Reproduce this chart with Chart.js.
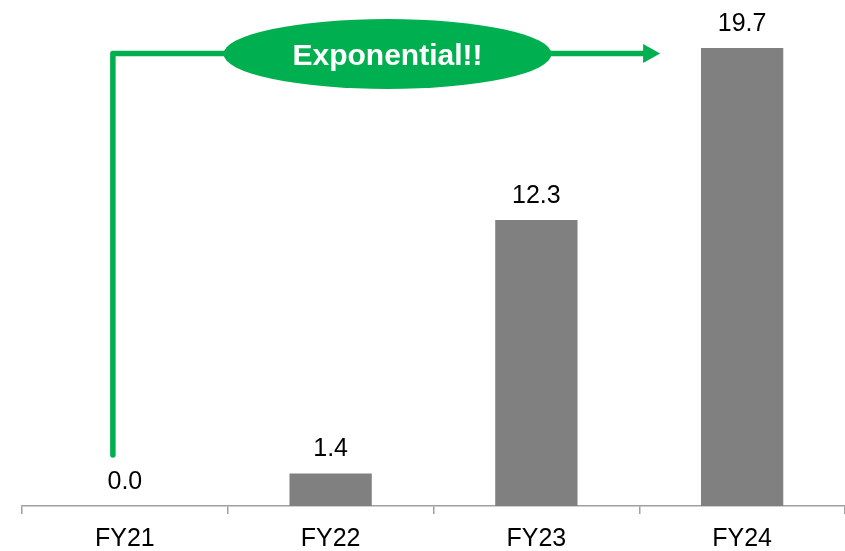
<!DOCTYPE html>
<html>
<head>
<meta charset="utf-8">
<script src="https://cdn.jsdelivr.net/npm/chart.js@4"></script>
<style>
  html, body { margin: 0; padding: 0; background: #ffffff; }
  #wrap { width: 845px; height: 551px; position: relative; }
</style>
</head>
<body>
<div id="wrap"><canvas id="chart" width="845" height="551"></canvas></div>
<script>
// Fiscal years and their values
const categories = ['FY21', 'FY22', 'FY23', 'FY24'];
const values = [0.0, 1.4, 12.3, 19.7];
const calloutText = 'Exponential!!';

const BAR_COLOR = '#808080';
const AXIS_COLOR = '#a0a0a0';
const GREEN = '#00B050';
const FONT = "Arial, 'Liberation Sans', sans-serif";

// Value labels above each bar
const valueLabelPlugin = {
  id: 'valueLabels',
  afterDatasetsDraw(chart) {
    const ctx = chart.ctx;
    const meta = chart.getDatasetMeta(0);
    ctx.save();
    ctx.font = '25px ' + FONT;
    ctx.fillStyle = '#000000';
    ctx.textAlign = 'center';
    ctx.textBaseline = 'alphabetic';
    meta.data.forEach((bar, i) => {
      ctx.fillText(values[i].toFixed(1), bar.x, bar.y - 17);
    });
    ctx.restore();
  }
};

// Green bracket arrow with an oval badge, running from FY21 up and over to FY24
const calloutPlugin = {
  id: 'callout',
  afterDraw(chart) {
    const ctx = chart.ctx;
    const xs = chart.scales.x;
    const ys = chart.scales.y;
    const x0 = xs.getPixelForValue(0) - 12;
    const yBottom = ys.getPixelForValue(0) - 51;
    const yTop = chart.chartArea.top + 12.5;
    const tipX = xs.getPixelForValue(3) - 82;
    const headLen = 17;
    const headHalf = 9.5;

    ctx.save();
    ctx.strokeStyle = GREEN;
    ctx.fillStyle = GREEN;
    ctx.lineWidth = 5.5;
    ctx.lineCap = 'round';
    ctx.lineJoin = 'round';
    ctx.beginPath();
    ctx.moveTo(x0, yBottom);
    ctx.lineTo(x0, yTop);
    ctx.lineTo(tipX - headLen + 1, yTop);
    ctx.stroke();

    // arrow head
    ctx.beginPath();
    ctx.moveTo(tipX, yTop);
    ctx.lineTo(tipX - headLen, yTop - headHalf);
    ctx.lineTo(tipX - headLen, yTop + headHalf);
    ctx.closePath();
    ctx.fill();

    // oval badge
    const cx = (x0 + tipX) / 2 + 1;
    const cy = yTop + 0.5;
    ctx.beginPath();
    ctx.ellipse(cx, cy, 164, 35, 0, 0, Math.PI * 2);
    ctx.fill();

    ctx.fillStyle = '#ffffff';
    ctx.font = 'bold 30px ' + FONT;
    ctx.textAlign = 'center';
    ctx.textBaseline = 'alphabetic';
    ctx.fillText(calloutText, cx, cy + 11);
    ctx.restore();
  }
};

new Chart(document.getElementById('chart'), {
  type: 'bar',
  data: {
    labels: categories,
    datasets: [{
      data: values,
      backgroundColor: BAR_COLOR,
      borderWidth: 0,
      barPercentage: 0.4,
      categoryPercentage: 1.0
    }]
  },
  options: {
    responsive: false,
    devicePixelRatio: 1,
    animation: false,
    layout: { padding: { left: 22, right: 0, top: 41, bottom: 0 } },
    plugins: {
      legend: { display: false },
      tooltip: { enabled: false }
    },
    scales: {
      x: {
        afterFit(scale) { scale.height = 45; },
        grid: {
          offset: true,
          drawOnChartArea: false,
          drawTicks: true,
          tickLength: 8,
          color: AXIS_COLOR,
          lineWidth: 1.5
        },
        border: { display: true, color: AXIS_COLOR, width: 1.5 },
        ticks: {
          color: '#000000',
          padding: 10,
          font: { family: FONT, size: 25 }
        }
      },
      y: {
        display: false,
        min: 0,
        max: 20
      }
    }
  },
  plugins: [valueLabelPlugin, calloutPlugin]
});
</script>
</body>
</html>
